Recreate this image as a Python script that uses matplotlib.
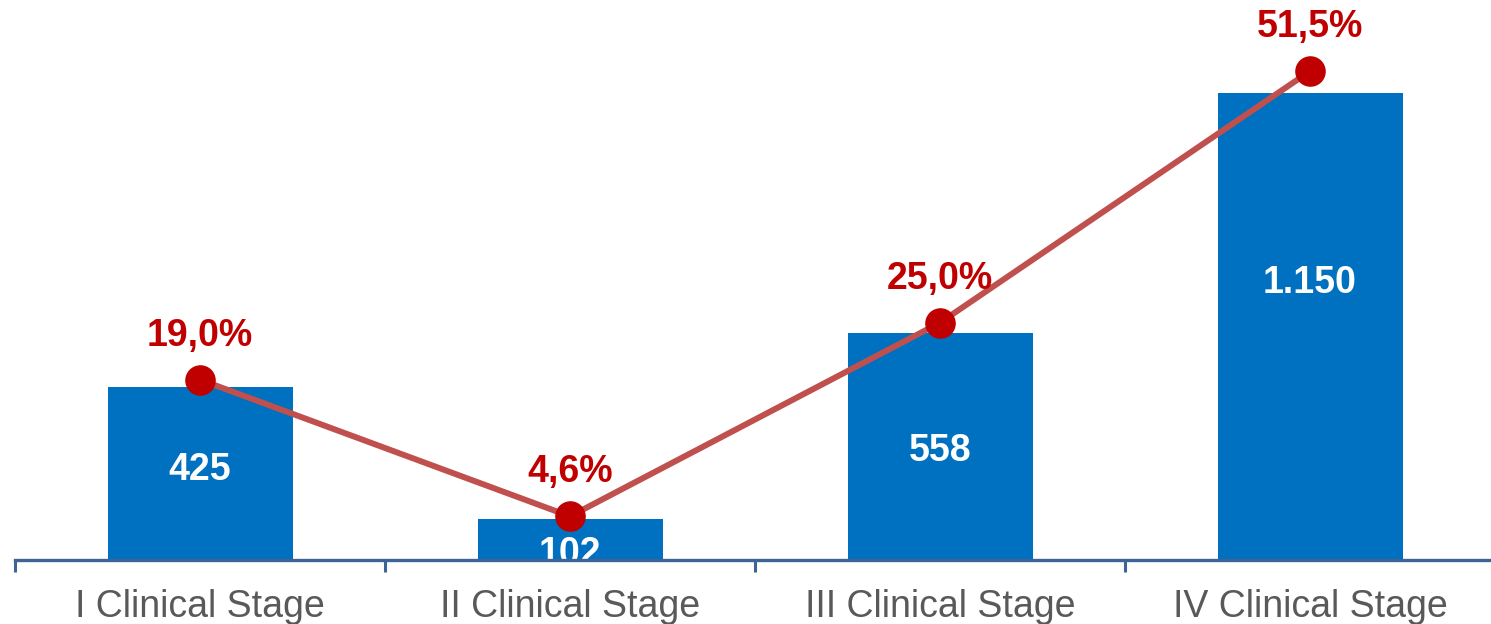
import numpy as np
import matplotlib.pyplot as plt
from matplotlib.transforms import blended_transform_factory

plt.rcParams["font.family"] = ["Liberation Sans", "DejaVu Sans"]

# data
categories = ["I Clinical Stage", "II Clinical Stage", "III Clinical Stage", "IV Clinical Stage"]
counts = [425, 102, 558, 1150]
shares = [19.0, 4.6, 25.0, 51.5]

# label baselines for the white count labels (data units)
count_label_y = [197, -10, 244, 658]

_bar_color = "#0070C0"
_line_color = "#C0504D"
_dot_color = "#C00000"
_axis_color = "#3E6497"


def fmt_count(v):
    return f"{v:,}".replace(",", ".")


def fmt_share(v):
    return f"{v:.1f}%".replace(".", ",")


fig = plt.figure(figsize=(14.91, 6.24), dpi=100)
W, H = 1491, 624
ax = fig.add_axes([15 / W, 64 / H, 1480 / W, 560 / H])

x = np.arange(len(categories))
ax.bar(x, counts, width=0.5, color=_bar_color, zorder=2)
ax.set_xlim(-0.5, len(categories) - 0.5)
ax.set_ylim(0, 1379)

for spine in ["top", "right", "left"]:
    ax.spines[spine].set_visible(False)
ax.spines["bottom"].set_color(_axis_color)
ax.spines["bottom"].set_linewidth(2.4)
ax.spines["bottom"].set_zorder(5)
ax.set_yticks([])
ax.set_xticks(np.arange(len(categories) + 1) - 0.5)
ax.set_xticklabels([])
ax.tick_params(axis="x", length=8.5, width=2.2, color=_axis_color)

trans = blended_transform_factory(ax.transData, ax.transAxes)
for i, name in enumerate(categories):
    ax.annotate(name, xy=(i, 0), xycoords=trans, xytext=(0, -41),
                textcoords="offset points", ha="center", va="baseline",
                fontsize=27, color="#595959", annotation_clip=False)

for i, v in enumerate(counts):
    ax.text(i, count_label_y[i], fmt_count(v), ha="center", va="baseline",
            fontsize=27, fontweight="bold", color="white", zorder=4, clip_on=True)

ax2 = ax.twinx()
ax2.set_ylim(0, 59.0)
ax2.axis("off")
ax2.plot(x, shares, color=_line_color, linewidth=4.3, zorder=3)
ax2.plot(x, shares, "o", color=_dot_color, markersize=21, zorder=4)
for i, v in enumerate(shares):
    ax2.annotate(fmt_share(v), xy=(i, v), xytext=(0, 24.5),
                 textcoords="offset points", ha="center", va="baseline",
                 fontsize=27, fontweight="bold", color=_dot_color,
                 annotation_clip=False)

plt.savefig("out.png", dpi=100)
